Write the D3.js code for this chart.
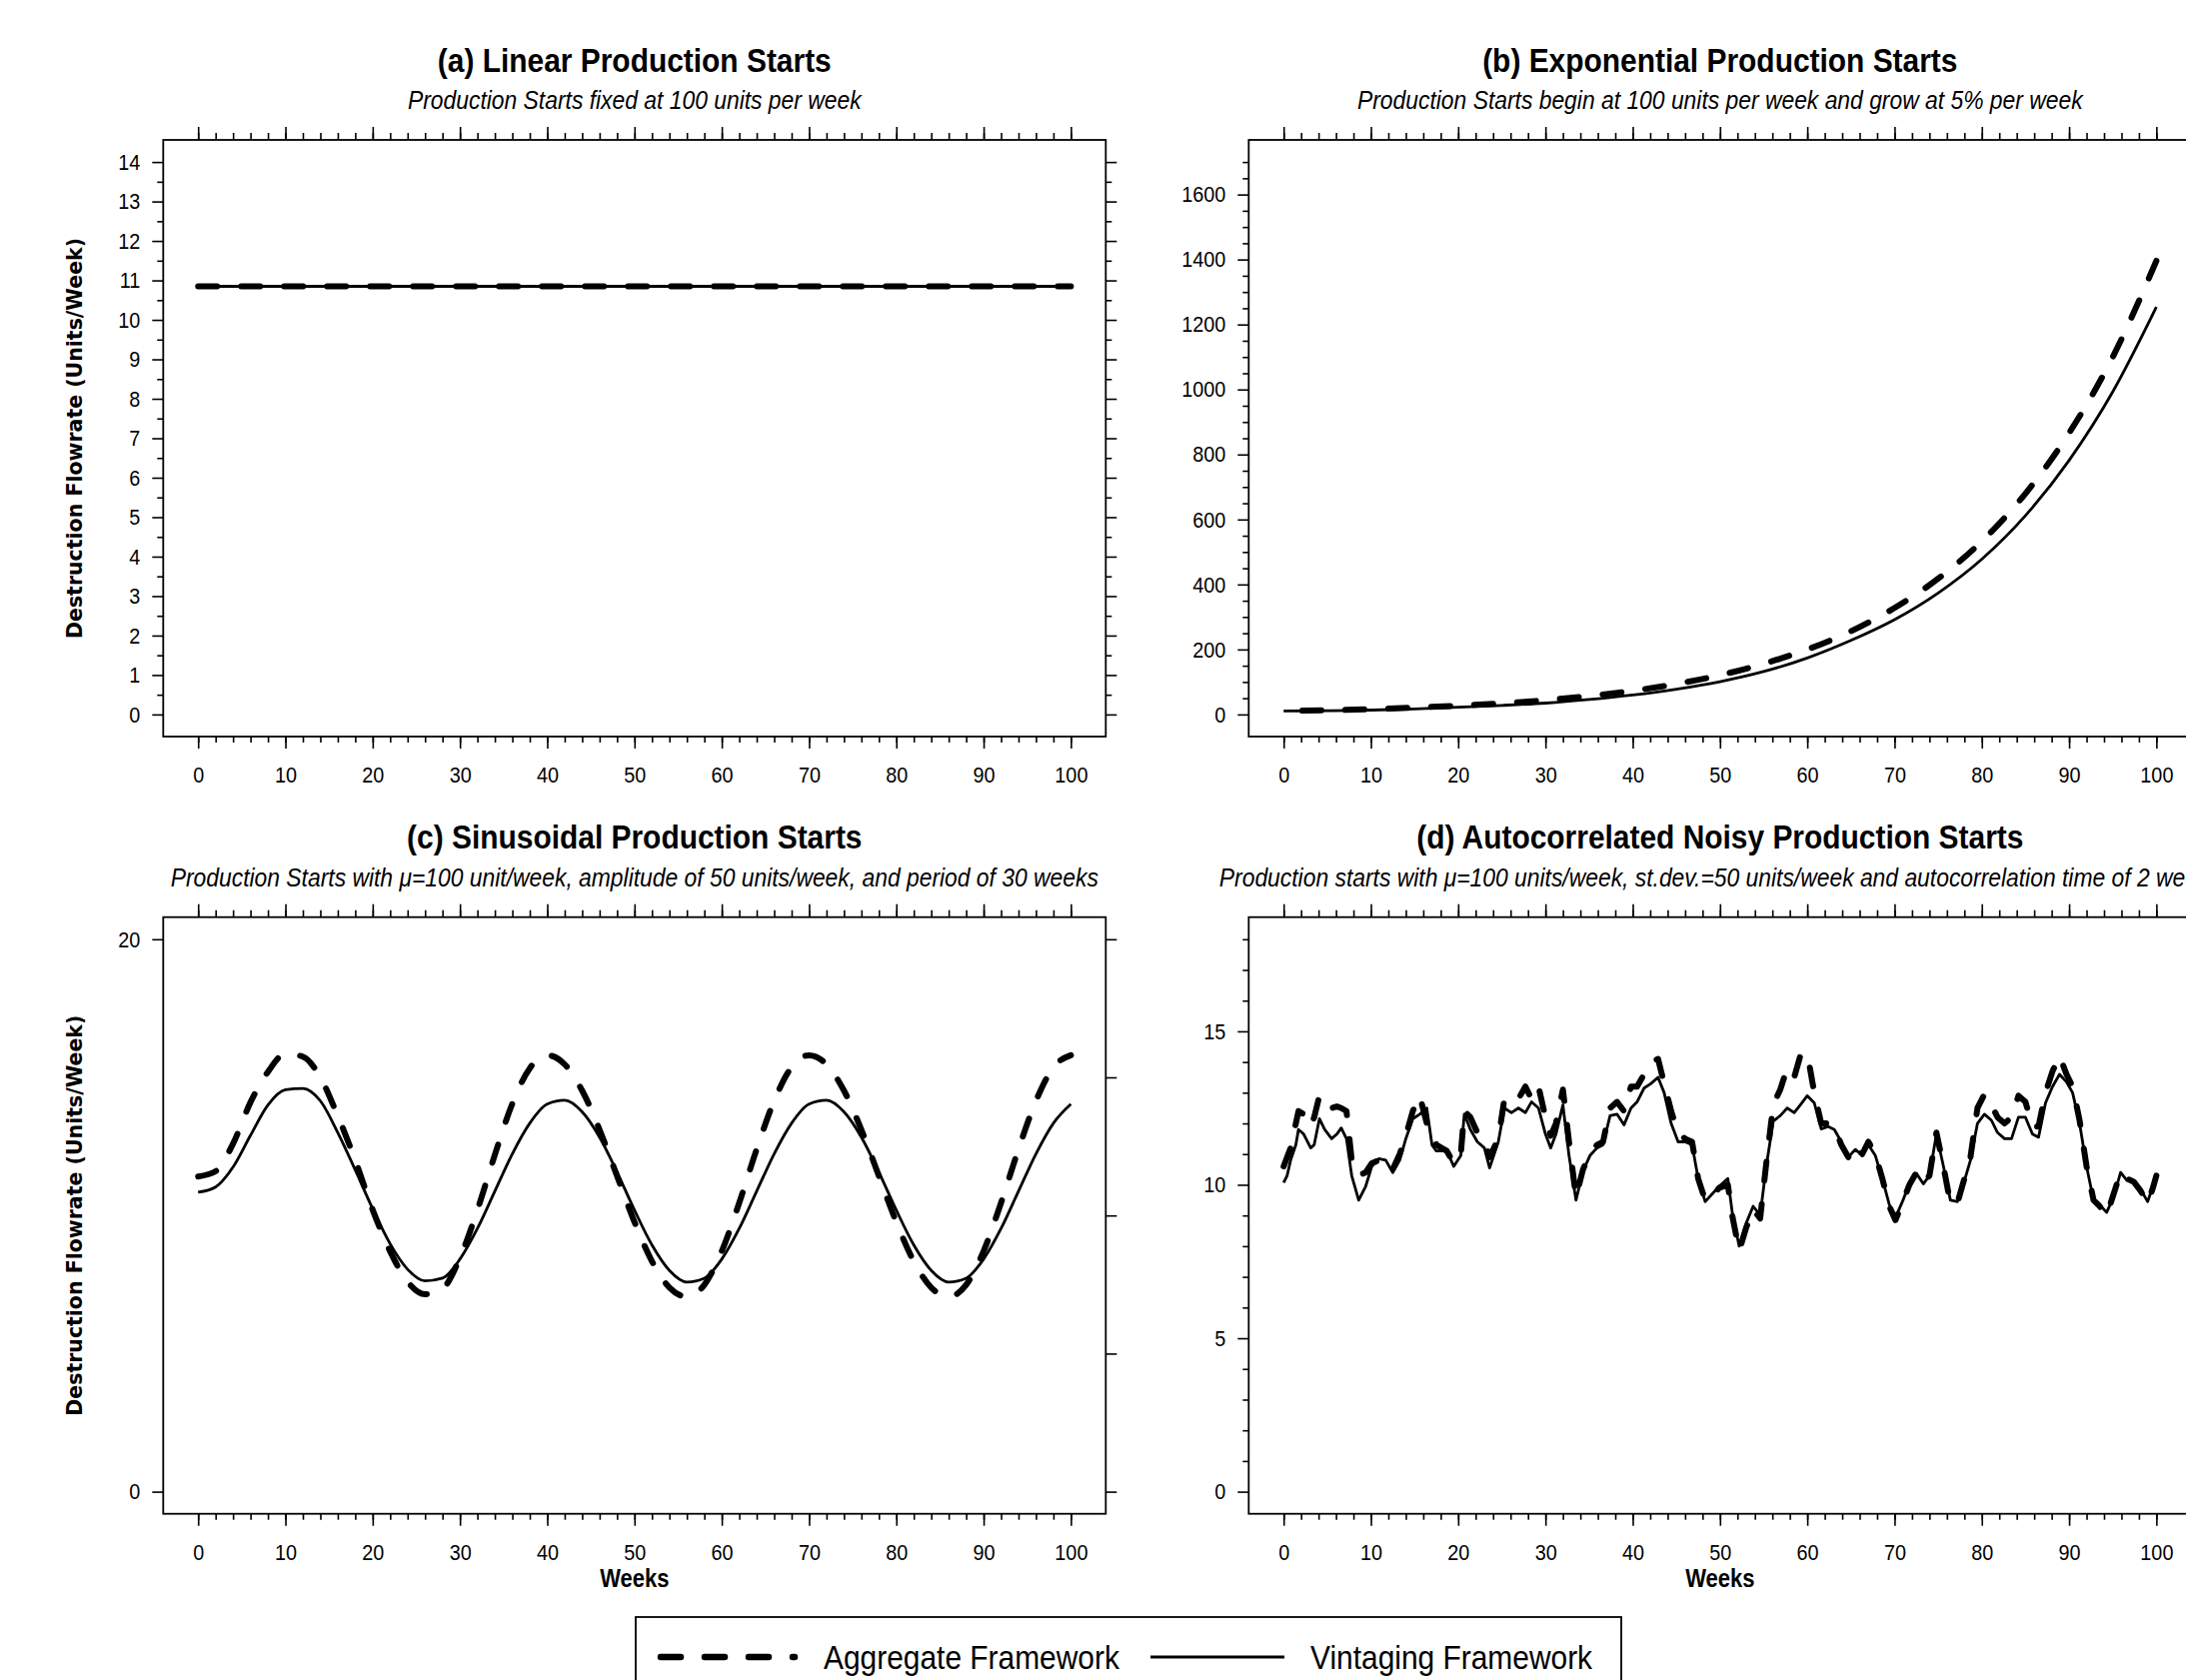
<!DOCTYPE html>
<html>
<head>
<meta charset="utf-8">
<script src="https://cdn.jsdelivr.net/npm/d3@7"></script>
<style>
  body { margin: 0; background: #fff; }
  svg { display: block; }
</style>
</head>
<body>
<div id="chart"></div>
<script>

// ---- data ----

// (a) linear starts: both frameworks flat
const linearWeeks = [0, 100];
const linearAggregate = [10.85, 10.85];
const linearVintaging = [10.85, 10.85];

// (b) exponential starts, every 5 weeks
const expWeeks = [0, 5, 10, 15, 20, 25, 30, 35, 40, 45, 50, 55, 60, 65, 70, 75, 80, 85, 90, 95, 100];
const expAggregate = [10.85, 13, 16, 21, 27, 34, 44, 57, 73, 94, 121, 156, 200, 256, 328, 418, 533, 680, 866, 1100, 1396];
const expVintaging = [10.85, 11.5, 13.5, 17, 22.5, 28, 35, 46, 60, 78, 101, 132, 174, 228, 292, 374, 478, 612, 782, 993, 1254];

// (c) sinusoidal starts, every 2 weeks
const sineWeeks = [0, 2, 4, 6, 8, 10, 12, 14, 16, 18, 20, 22, 24, 26, 28, 30, 32, 34, 36, 38, 40,
  42, 44, 46, 48, 50, 52, 54, 56, 58, 60, 62, 64, 66, 68, 70, 72, 74, 76, 78, 80,
  82, 84, 86, 88, 90, 92, 94, 96, 98, 100];
const sineAggregate = [11.41, 11.6, 12.6, 14.1, 15.2, 15.85, 15.75, 15.0, 13.6, 12.0, 10.2, 8.7, 7.6, 7.15, 7.35, 8.47, 10.2, 12.2, 14.05, 15.33, 15.8,
  15.47, 14.52, 13.1, 11.43, 9.76, 8.34, 7.39, 7.06, 7.49, 8.71, 10.46, 12.4, 14.15, 15.37, 15.8, 15.47, 14.52, 13.1, 11.43, 9.76,
  8.34, 7.39, 7.06, 7.49, 8.71, 10.46, 12.4, 14.15, 15.37, 15.8];
const sineVintaging = [10.84, 11.03, 11.75, 12.9, 14.0, 14.55, 14.6, 14.15, 13.0, 11.65, 10.24, 8.97, 8.05, 7.63, 7.73, 8.42, 9.53, 10.88, 12.23, 13.34, 14.03,
  14.17, 13.75, 12.83, 11.57, 10.19, 8.93, 8.01, 7.59, 7.73, 8.42, 9.53, 10.88, 12.23, 13.34, 14.03, 14.17, 13.75, 12.83, 11.57, 10.19,
  8.93, 8.01, 7.59, 7.73, 8.42, 9.53, 10.88, 12.23, 13.34, 14.03];

// (d) autocorrelated noisy starts
const noiseWeeks = [0, 0.4, 0.8, 1.4, 1.7, 2.3, 3.1, 3.5, 4.1, 4.7, 5.5, 6.1, 6.6, 7.2, 7.8, 8.6, 9.4, 10.1, 10.9, 11.7,
  12.5, 13.3, 14.0, 14.8, 15.6, 16.4, 17.0, 17.5, 18.7, 19.5, 20.3, 20.7, 21.4, 22.2, 23.0, 23.6, 24.6, 25.3, 26.1, 26.9,
  27.7, 28.4, 29.2, 30.0, 30.6, 31.2, 32.0, 32.7, 33.5, 34.3, 35.1, 35.9, 36.6, 37.4, 38.2, 39.0, 39.8, 40.5, 41.3, 42.1,
  42.9, 43.6, 44.4, 45.2, 46.0, 46.8, 47.5, 48.3, 49.1, 49.9, 50.9, 51.4, 52.2, 53.0, 53.8, 54.6, 55.3, 56.1, 56.9, 57.7,
  58.5, 59.2, 60.0, 60.8, 61.6, 62.4, 63.1, 63.9, 64.7, 65.5, 66.3, 67.0, 67.8, 68.6, 69.4, 70.1, 70.9, 71.7, 72.5, 73.3,
  74.0, 74.8, 75.6, 76.4, 77.2, 77.9, 78.7, 79.5, 80.3, 81.1, 81.8, 82.6, 83.4, 84.2, 85.0, 85.8, 86.5, 87.3, 88.1, 88.9,
  89.7, 90.4, 91.2, 92.0, 92.8, 93.5, 94.3, 95.1, 95.9, 96.6, 97.4, 98.2, 99.0, 99.6, 100];
const noiseAggregate = [10.6, 10.9, 11.2, 12.0, 12.4, 12.3, 11.9, 12.2, 12.9, 12.6, 12.5, 12.55, 12.5, 12.4, 10.8, 10.3, 10.4, 10.7, 10.8, 10.85,
  10.5, 11.0, 11.6, 12.4, 12.9, 12.0, 11.8, 11.3, 11.1, 10.7, 11.0, 12.4, 12.2, 11.7, 11.4, 10.9, 11.5, 12.8, 12.9, 12.8,
  13.2, 12.8, 13.2, 12.2, 11.6, 12.0, 13.1, 11.4, 9.6, 10.5, 11.0, 11.3, 11.4, 12.5, 12.7, 12.4, 13.2, 13.2, 13.6, 14.0,
  14.1, 13.3, 12.4, 11.7, 11.5, 11.4, 10.2, 9.5, 9.6, 9.9, 10.0, 9.0, 7.85, 8.6, 9.2, 8.9, 10.7, 12.6, 13.1, 13.8,
  13.5, 14.2, 14.3, 13.0, 12.0, 12.0, 11.9, 11.3, 10.9, 11.3, 11.0, 11.4, 11.0, 10.2, 9.3, 8.85, 9.4, 10.0, 10.4, 10.05,
  10.3, 11.7, 10.6, 9.4, 9.4, 10.1, 10.9, 12.5, 12.95, 12.6, 12.2, 12.0, 12.2, 12.9, 12.7, 11.9, 11.9, 13.0, 13.7, 14.2,
  13.6, 13.2, 12.1, 10.6, 9.5, 9.3, 9.0, 9.7, 10.4, 10.2, 10.1, 9.8, 9.4, 9.9, 10.3];
const noiseVintaging = [10.07, 10.3, 10.8, 11.3, 11.8, 11.65, 11.2, 11.3, 12.15, 11.8, 11.5, 11.65, 11.85, 11.5, 10.3, 9.5, 9.95, 10.6, 10.85, 10.8,
  10.4, 10.8, 11.5, 12.15, 12.3, 12.5, 11.3, 11.1, 11.1, 10.6, 10.95, 12.3, 11.8, 11.4, 11.2, 10.55, 11.4, 12.5, 12.35, 12.5,
  12.35, 12.7, 12.5, 11.65, 11.2, 11.65, 12.6, 10.95, 9.5, 10.45, 10.95, 11.2, 11.3, 12.25, 12.3, 11.95, 12.5, 12.7, 13.15, 13.3,
  13.5, 13.0, 12.0, 11.4, 11.4, 11.3, 10.2, 9.45, 9.7, 9.95, 10.2, 9.1, 8.0, 8.75, 9.3, 9.0, 10.6, 12.07, 12.25, 12.5,
  12.35, 12.6, 12.9, 12.67, 11.82, 11.9, 11.8, 11.4, 10.9, 11.15, 10.95, 11.3, 10.95, 10.2, 9.35, 8.93, 9.45, 10.03, 10.37, 10.03,
  10.3, 11.65, 10.6, 9.5, 9.45, 10.03, 10.8, 12.0, 12.3, 12.1, 11.7, 11.5, 11.5, 12.2, 12.2, 11.65, 11.55, 12.67, 13.2, 13.6,
  13.35, 13.0, 12.0, 10.6, 9.5, 9.35, 9.1, 9.6, 10.4, 10.15, 10.1, 9.85, 9.45, 9.95, 10.3];

// tick values
const weekMajor = [0, 10, 20, 30, 40, 50, 60, 70, 80, 90, 100];
const weekMinor = [0, 2, 4, 6, 8, 10, 12, 14, 16, 18, 20, 22, 24, 26, 28, 30, 32, 34, 36, 38, 40, 42, 44, 46, 48, 50,
  52, 54, 56, 58, 60, 62, 64, 66, 68, 70, 72, 74, 76, 78, 80, 82, 84, 86, 88, 90, 92, 94, 96, 98, 100];
const linearMajor = [0, 1, 2, 3, 4, 5, 6, 7, 8, 9, 10, 11, 12, 13, 14];
const linearMinor = [0.5, 1.5, 2.5, 3.5, 4.5, 5.5, 6.5, 7.5, 8.5, 9.5, 10.5, 11.5, 12.5, 13.5];
const expMajor = [0, 200, 400, 600, 800, 1000, 1200, 1400, 1600];
const expMinor = [50, 100, 150, 250, 300, 350, 450, 500, 550, 650, 700, 750, 850, 900, 950, 1050, 1100, 1150,
  1250, 1300, 1350, 1450, 1500, 1550, 1650, 1700];
const sineMajor = [0, 20];
const sineRight = [0, 5, 10, 15, 20];
const noiseMajor = [0, 5, 10, 15];
const noiseMinor = [1, 2, 3, 4, 6, 7, 8, 9, 11, 12, 13, 14, 16, 17, 18];

const legendLabels = ['Aggregate Framework', 'Vintaging Framework'];

// ---- drawing ----

const sans = "'Liberation Sans', Arial, sans-serif";
const squeeze = 0.88;   // the figure uses a narrow face; squeeze Liberation Sans to match

const svg = d3.select('#chart').append('svg')
    .attr('width', 2187)
    .attr('height', 1681);

function pad(lo, hi) {
  // R style 4% extension of the axis range
  const d = (hi - lo) * 0.04;
  return [lo - d, hi + d];
}

// narrow a text element in place, keeping its anchor point
function narrowText(sel) {
  sel.each(function() {
    const xv = +this.getAttribute('x') || 0;
    this.setAttribute('x', xv / squeeze);
  }).attr('transform', `scale(${squeeze},1)`);
}

function panel(opt) {
  const w = 943, h = 597;
  const g = svg.append('g')
      .attr('transform', `translate(${opt.left},${opt.top})`);

  const x = d3.scaleLinear().domain(pad(0, 100)).range([0, w]);
  const y = d3.scaleLinear().domain(pad(0, opt.yMax)).range([h, 0]);

  // axes (ticks sit outside the box)
  const tidy = sel => {
    sel.select('.domain').remove();
    sel.selectAll('line').attr('stroke', '#000').attr('stroke-width', 1.6);
    sel.selectAll('text')
      .attr('fill', '#000')
      .style('font-family', sans)
      .style('font-size', '22.5px')
      .call(narrowText);
  };

  g.append('g').call(d3.axisTop(x).tickValues(weekMinor).tickSize(7).tickFormat('')).call(tidy);
  g.append('g').call(d3.axisTop(x).tickValues(weekMajor).tickSize(13).tickFormat('')).call(tidy);
  g.append('g').attr('transform', `translate(0,${h})`)
    .call(d3.axisBottom(x).tickValues(weekMinor).tickSize(6).tickFormat('')).call(tidy);
  g.append('g').attr('transform', `translate(0,${h})`)
    .call(d3.axisBottom(x).tickValues(weekMajor).tickSize(12).tickPadding(18).tickFormat(d3.format('d'))).call(tidy);

  if (opt.yMinor) {
    g.append('g').call(d3.axisLeft(y).tickValues(opt.yMinor).tickSize(6).tickFormat('')).call(tidy);
  }
  g.append('g').call(d3.axisLeft(y).tickValues(opt.yMajor).tickSize(11).tickPadding(12).tickFormat(d3.format('d'))).call(tidy);

  if (opt.rightMinor) {
    g.append('g').attr('transform', `translate(${w},0)`)
      .call(d3.axisRight(y).tickValues(opt.rightMinor).tickSize(6).tickFormat('')).call(tidy);
  }
  g.append('g').attr('transform', `translate(${w},0)`)
    .call(d3.axisRight(y).tickValues(opt.rightMajor || opt.yMajor).tickSize(11).tickFormat('')).call(tidy);

  g.append('rect')
      .attr('width', w)
      .attr('height', h)
      .attr('fill', 'none')
      .attr('stroke', '#000')
      .attr('stroke-width', 1.8);

  const line = d3.line()
      .x(d => x(d[0]))
      .y(d => y(d[1]))
      .curve(opt.curve || d3.curveLinear);

  const agg = opt.weeks.map((t, i) => [t, opt.aggregate[i]]);
  const vin = opt.weeks.map((t, i) => [t, opt.vintaging[i]]);

  const aggPath = g.append('path')
      .datum(agg)
      .attr('d', line)
      .attr('fill', 'none')
      .attr('stroke', '#000')
      .attr('stroke-width', 6)
      .attr('stroke-linecap', 'round')
      .attr('stroke-linejoin', 'round')
      .attr('stroke-dasharray', '19,24');

  if (opt.endOnDash) {
    // shift the pattern so the curve finishes on a dash
    const len = aggPath.node().getTotalLength();
    aggPath.attr('stroke-dashoffset', ((19 - len) % 43 + 43) % 43);
  }

  g.append('path')
      .datum(vin)
      .attr('d', line)
      .attr('fill', 'none')
      .attr('stroke', '#000')
      .attr('stroke-width', 2.8)
      .attr('stroke-linejoin', 'round');

  // titles
  g.append('text')
      .attr('x', w / 2)
      .attr('y', -80)
      .attr('text-anchor', 'middle')
      .attr('dominant-baseline', 'central')
      .style('font-family', sans)
      .style('font-weight', 'bold')
      .style('font-size', '34px')
      .text(opt.title)
      .call(narrowText);

  g.append('text')
      .attr('x', w / 2)
      .attr('y', -40)
      .attr('text-anchor', 'middle')
      .attr('dominant-baseline', 'central')
      .style('font-family', sans)
      .style('font-style', 'italic')
      .style('font-size', '26px')
      .text(opt.subtitle)
      .call(narrowText);

  if (opt.yLabel) {
    g.append('text')
        .attr('transform', `translate(${75 - opt.left},${h / 2}) rotate(-90)`)
        .attr('text-anchor', 'middle')
        .attr('dominant-baseline', 'central')
        .style('font-family', "'DejaVu Sans', sans-serif")
        .style('font-weight', 'bold')
        .style('font-size', '20.5px')
        .text('Destruction Flowrate (Units/Week)');
  }

  if (opt.xLabel) {
    g.append('text')
        .attr('x', w / 2)
        .attr('y', h + 65)
        .attr('text-anchor', 'middle')
        .attr('dominant-baseline', 'central')
        .style('font-family', sans)
        .style('font-weight', 'bold')
        .style('font-size', '25px')
        .text('Weeks')
        .call(narrowText);
  }
}

panel({
  left: 163.3, top: 140, yMax: 14,
  yMajor: linearMajor, yMinor: linearMinor, rightMinor: linearMinor,
  weeks: linearWeeks, aggregate: linearAggregate, vintaging: linearVintaging,
  title: '(a) Linear Production Starts',
  subtitle: 'Production Starts fixed at 100 units per week',
  yLabel: true
});

panel({
  left: 1249.3, top: 140, yMax: 1700,
  yMajor: expMajor, yMinor: expMinor, rightMinor: expMinor,
  weeks: expWeeks, aggregate: expAggregate, vintaging: expVintaging,
  curve: d3.curveMonotoneX, endOnDash: true,
  title: '(b) Exponential Production Starts',
  subtitle: 'Production Starts begin at 100 units per week and grow at 5% per week'
});

panel({
  left: 163.3, top: 917.7, yMax: 20,
  yMajor: sineMajor, rightMajor: sineRight,
  weeks: sineWeeks, aggregate: sineAggregate, vintaging: sineVintaging,
  curve: d3.curveMonotoneX,
  title: '(c) Sinusoidal Production Starts',
  subtitle: 'Production Starts with \u03bc=100 unit/week, amplitude of 50 units/week, and period of 30 weeks',
  yLabel: true, xLabel: true
});

panel({
  left: 1249.3, top: 917.7, yMax: 18,
  yMajor: noiseMajor, yMinor: noiseMinor, rightMinor: noiseMinor,
  weeks: noiseWeeks, aggregate: noiseAggregate, vintaging: noiseVintaging,
  title: '(d) Autocorrelated Noisy Production Starts',
  subtitle: 'Production starts with \u03bc=100 units/week, st.dev.=50 units/week and autocorrelation time of 2 weeks',
  xLabel: true
});

// legend at the bottom
const legend = svg.append('g');
legend.append('rect')
    .attr('x', 636)
    .attr('y', 1618)
    .attr('width', 986)
    .attr('height', 100)
    .attr('fill', 'none')
    .attr('stroke', '#000')
    .attr('stroke-width', 1.8);

legend.append('line')
    .attr('x1', 661).attr('x2', 795)
    .attr('y1', 1658).attr('y2', 1658)
    .attr('stroke', '#000')
    .attr('stroke-width', 6.5)
    .attr('stroke-linecap', 'round')
    .attr('stroke-dasharray', '20,24');

legend.append('line')
    .attr('x1', 1151).attr('x2', 1285)
    .attr('y1', 1658).attr('y2', 1658)
    .attr('stroke', '#000')
    .attr('stroke-width', 2.8);

legend.selectAll('text.lab')
  .data(legendLabels)
  .join('text')
    .attr('class', 'lab')
    .attr('x', (d, i) => i === 0 ? 824 : 1311)
    .attr('y', 1658)
    .attr('dominant-baseline', 'central')
    .style('font-family', sans)
    .style('font-size', '34px')
    .text(d => d)
    .call(narrowText);

</script>
</body>
</html>
